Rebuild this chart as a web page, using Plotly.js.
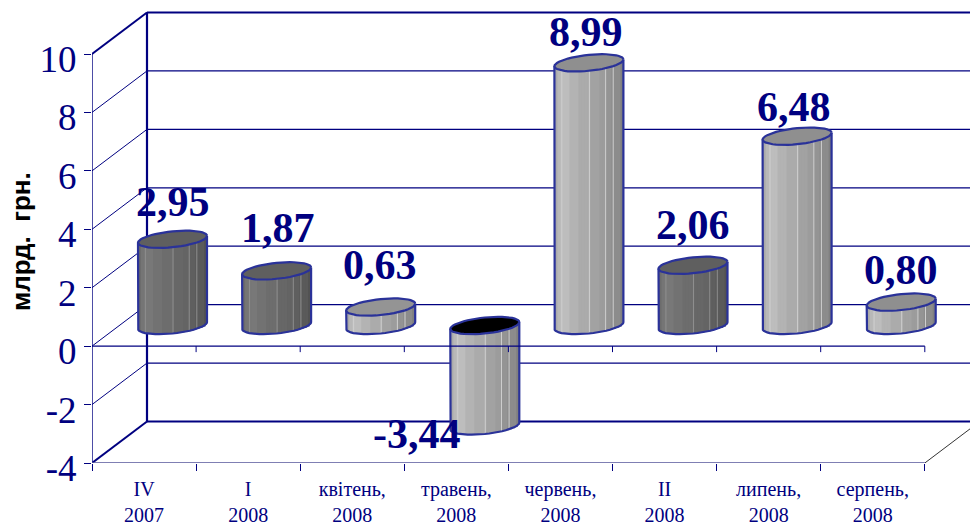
<!DOCTYPE html>
<html><head><meta charset="utf-8">
<script src="https://cdn.plot.ly/plotly-3.0.1.min.js"></script>
<style>html,body{margin:0;padding:0;background:#fff;overflow:hidden}</style>
</head><body><div id="chart" style="width:970px;height:525px"></div>
<script>
// ---- data ----
const categories = ['IV<br>2007','I<br>2008','квітень,<br>2008','травень,<br>2008','червень,<br>2008','II<br>2008','липень,<br>2008','серпень,<br>2008'];
const values = [2.95, 1.87, 0.63, -3.44, 8.99, 2.06, 6.48, 0.80];
const yTicks = [-4,-2,0,2,4,6,8,10];
const yTickText = ['-4','-2','0','2','4','6','8','10'];
const yTitle = 'млрд.\u00a0\u00a0грн.';

// ---- styling ----
const darkColumns = [true,true,false,false,false,true,false,false];
const capColors = ['#5f5f5f','#5f5f5f','#949494','#000000','#8f8f8f','#5f5f5f','#8f8f8f','#8f8f8f'];
const labelLift = [24,30,29,-21,18,27,16,19];
const labelNudge = [0,1,-1,-68,-3,0,-3,0];
const NAVY = '#000080', EDGE = '#2a3299', SERIF = '"Liberation Serif", "Times New Roman", serif';
const bandEdges = [0,.05,.10,.235,.35,.50,.635,.735,.845,.945,1];
const bandGreys = [170,184,189,179,171,162,156,148,140,128];
const sepFracs = [.10,.50,.735,.845];

// ---- geometry of the fake 3D box, in pixels ----
const UX = 104.1, UY = 29.214, plotW = 878, plotH = 455, plotL = 92, plotT = 8;
const depthX = 55/UX, depthY = 41.5/UY;
const colW = 69/UX, capA = 34.5/UX, capB = 8/UY, capS = 3.4/UY;
const xMax = plotW/UX, yMin = -4, yMax = yMin + plotH/UY;
const x2Min = 0.5 - 80.5/UX, y2Min = -137.5/UY;
const centers = values.map((_,i)=>i+0.5);
const tops = values.map(v=>Math.max(0,v)), bottoms = values.map(v=>Math.min(0,v));

const traces = [];
const lineTrace = (xs,ys,color,width,ax) => traces.push(Object.assign({type:'scatter',mode:'lines',x:xs,y:ys,
  line:{color:color,width:width},cliponaxis:false,hoverinfo:'skip',showlegend:false},ax||{}));

// back wall and left wall
yTicks.forEach(v=>{
  const heavy = v===yTicks[0] || v===yTicks[yTicks.length-1];
  lineTrace([0,depthX],[v,v+depthY],NAVY,heavy?2:1);
  lineTrace([depthX,xMax],[v+depthY,v+depthY],NAVY,heavy?2.2:1.2);
});
lineTrace([depthX,depthX],[yMin+depthY,10+depthY],NAVY,2.2);
lineTrace([8,8+depthX],[yMin,yMin+depthY],'#333333',1);
lineTrace([0,0],[yMin,10],NAVY,1.4);
lineTrace([0,8],[yMin,yMin],'#55559a',1.4);

// cylinder bodies: narrow vertical bars from the values
const onCols = {xaxis:'x2',yaxis:'y2'};
const bodyBase = f => { const c=2*f-1, s=Math.sqrt(Math.max(0,1-c*c));
  return bottoms.map(b=>b + capS*c - capB*s); };
const bodyLen = f => { const base=bodyBase(f), c=2*f-1;
  return tops.map((t,i)=>t + capS*c - base[i]); };
const grey = (g,dark) => { const k=Math.round(dark?g*0.62+3:g); return 'rgb('+k+','+k+','+k+')'; };
const N = 23;
for(let j=0;j<N;j++){
  const f=(j+0.5)/N;
  let b=0; while(b<bandGreys.length-1 && f>bandEdges[b+1]) b++;
  const w = j<N-1 ? colW/N*1.5 : colW/N;
  traces.push(Object.assign({type:'bar',x:centers,y:bodyLen(f),base:bodyBase(f),width:w,offset:(j/N-0.5)*colW,
    marker:{color:darkColumns.map(d=>grey(bandGreys[b],d)),line:{width:0}},hoverinfo:'skip',showlegend:false},onCols));
}
sepFracs.forEach(f=>{
  traces.push(Object.assign({type:'bar',x:centers,y:bodyLen(f),base:bodyBase(f),width:1/UX,offset:(f-0.5)*colW,
    marker:{color:darkColumns.map(d=>d?'#8e8e8e':'#cfcfcf'),line:{width:0}},hoverinfo:'skip',showlegend:false},onCols));
});

// caps and silhouettes
const STEPS = 48;
values.forEach((v,i)=>{
  const cx=centers[i], capX=[], capY=[];
  for(let k=0;k<=STEPS;k++){ const t=2*Math.PI*k/STEPS;
    capX.push(cx+capA*Math.cos(t)); capY.push(tops[i]+capS*Math.cos(t)-capB*Math.sin(t)); }
  const sideX=[], sideY=[];
  sideX.push(cx-capA); sideY.push(tops[i]-capS);
  for(let k=STEPS/2;k>=0;k--){ const t=Math.PI*k/(STEPS/2);
    sideX.push(cx+capA*Math.cos(t)); sideY.push(bottoms[i]+capS*Math.cos(t)-capB*Math.sin(t)); }
  sideX.push(cx+capA); sideY.push(tops[i]+capS);
  lineTrace(sideX,sideY,EDGE,2.2,onCols);
  traces.push(Object.assign({type:'scatter',mode:'lines',x:capX,y:capY,fill:'toself',fillcolor:capColors[i],
    line:{color:EDGE,width:2.2},hoverinfo:'skip',showlegend:false},onCols));
});

// front zero plane, over the columns
const onFront = {xaxis:'x3',yaxis:'y3'};
lineTrace([0,8],[0,0],NAVY,1.2,onFront);
for(let k=1;k<=8;k++) lineTrace([k,k],[0,-6/UY],NAVY,1,onFront);

const annotations = values.map((v,i)=>({xref:'x2',yref:'y2',x:centers[i],y:v,
  text:'<b>'+v.toFixed(2).replace('.',',')+'</b>',showarrow:false,xanchor:'center',yanchor:'bottom',
  xshift:labelNudge[i],yshift:labelLift[i]-12,
  font:{family:SERIF,size:42,color:NAVY}}));
annotations.push({xref:'paper',yref:'paper',x:(21-plotL)/plotW,y:1-(242-plotT)/plotH,xanchor:'center',yanchor:'middle',
  text:'<b>'+yTitle+'</b>',textangle:-90,showarrow:false,
  font:{family:'"Liberation Sans", Arial, sans-serif',size:26,color:'#000000'}});

const hidden = {visible:false,fixedrange:true};
const layout = {
  width:970,height:525,margin:{l:plotL,r:0,t:plotT,b:62,pad:0},
  paper_bgcolor:'#ffffff',plot_bgcolor:'rgba(0,0,0,0)',barmode:'overlay',showlegend:false,
  font:{family:SERIF,color:NAVY},
  xaxis:{range:[0,xMax],showgrid:false,zeroline:false,showline:false,tickmode:'array',tickvals:[0,1,2,3,4,5,6,7,8],
    ticks:'outside',ticklen:7,tickwidth:1,tickcolor:NAVY,showticklabels:false,fixedrange:true},
  yaxis:{range:[yMin,yMax],showgrid:false,zeroline:false,showline:false,tickmode:'array',tickvals:yTicks,ticktext:yTickText,
    ticks:'outside',ticklen:7,tickwidth:1,tickcolor:NAVY,ticklabelstandoff:0,ticklabelshift:5,tickfont:{family:SERIF,size:37,color:NAVY},fixedrange:true},
  xaxis2:Object.assign({range:[x2Min,x2Min+xMax],overlaying:'x',anchor:'y2'},hidden),
  yaxis2:Object.assign({range:[y2Min,y2Min+plotH/UY],overlaying:'y',anchor:'x2'},hidden),
  xaxis3:{range:[0,xMax],overlaying:'x',anchor:'y3',showgrid:false,zeroline:false,showline:false,tickmode:'array',
    tickvals:centers,ticktext:categories,ticks:'',ticklabelstandoff:12,tickfont:{family:SERIF,size:20,color:NAVY},fixedrange:true},
  yaxis3:Object.assign({range:[yMin,yMax],overlaying:'y',anchor:'x3'},hidden),
  annotations:annotations
};
Plotly.newPlot('chart',traces,layout,{displayModeBar:false,staticPlot:true});
</script></body></html>
